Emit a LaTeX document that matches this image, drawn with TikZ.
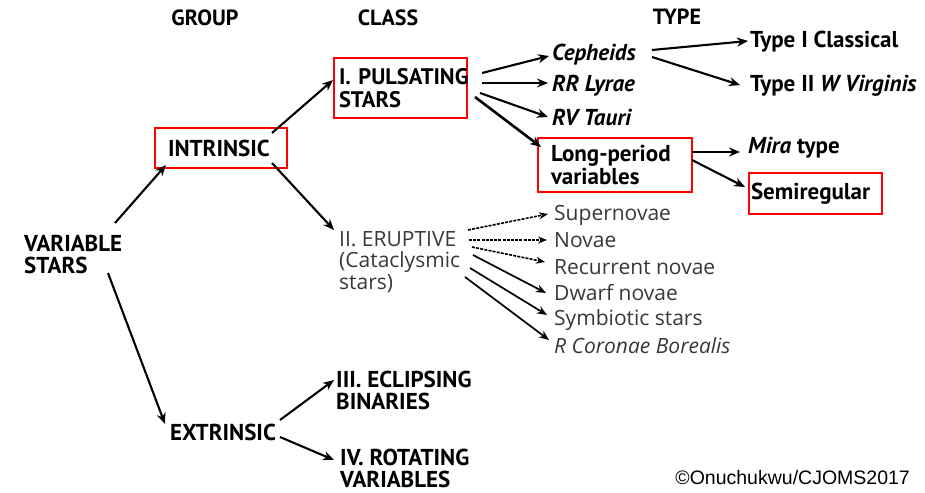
\documentclass[tikz,border=0pt]{standalone}
\usepackage{fontspec}
\setmainfont{PT Sans}
\newfontfamily\subfont{Open Sans}
\newfontfamily\credfont{Liberation Sans}
\usetikzlibrary{arrows.meta}
\tikzset{
  lbl/.style={anchor=west, inner sep=0pt, align=left, font=\bfseries\fontsize{23}{22}\selectfont},
  hdr/.style={inner sep=0pt, font=\bfseries\fontsize{22}{22}\selectfont},
  sub/.style={anchor=west, inner sep=0pt, align=left, text=black!78, font=\subfont\fontsize{21}{21.5}\selectfont},
  redbox/.style={draw=red, line width=2pt, inner ysep=0pt, align=left, font=\bfseries\fontsize{23}{23}\selectfont},
  arr/.style={-{Stealth[length=11pt,width=9pt]}, line width=2.1pt},
  darr/.style={-{Stealth[length=9pt,width=7pt]}, line width=1.6pt, dash pattern=on 3pt off 1.2pt},
  sarr/.style={-{Stealth[length=10pt,width=8pt]}, line width=1.7pt},
}
\begin{document}
\begin{tikzpicture}[x=1pt,y=-1pt]
\useasboundingbox (0,0) rectangle (925,492);
% headers
\node[hdr] (hgroup) at (205,18) {GROUP};
\node[hdr] (hclass) at (388,18) {CLASS};
\node[hdr] (htype) at (677,17) {TYPE};
% group level
\node[lbl] (vs) at (24,254) {VARIABLE\\STARS};
\node[redbox, inner xsep=13pt, text width=106pt, minimum height=40pt] (int) at (221,148) {INTRINSIC};
\node[lbl] (ext) at (170,432) {EXTRINSIC};
% class level
\node[redbox, inner xsep=5pt, text width=123pt, minimum height=60pt, font=\bfseries\fontsize{22.5}{23}\selectfont] (pul) at (400.5,88) {\mbox{I. PULSATING}\\STARS};
\node[sub] (eru) at (339,262) {II. ERUPTIVE\\(Cataclysmic\\stars)};
\node[lbl] (ecl) at (336,390) {III. ECLIPSING\\BINARIES};
\node[lbl] (rot) at (340,468) {IV. ROTATING\\VARIABLES};
% type level (pulsating)
\node[lbl] (ceph) at (552,55) {\itshape Cepheids};
\node[lbl] (rr) at (552,86) {\itshape RR Lyrae};
\node[lbl] (rv) at (552,117) {\itshape RV Tauri};
\node[redbox, inner xsep=13pt, text width=128pt, minimum height=54pt] (lpv) at (615,165) {\mbox{Long-period}\\variables};
\node[lbl] (t1) at (750,42) {Type I Classical};
\node[lbl] (t2) at (750,86) {Type II \textit{W Virginis}};
\node[lbl] (mira) at (748,148) {\textit{Mira} type};
\node[redbox, inner xsep=2pt, text width=129pt, minimum height=41pt] (semi) at (815.5,193.5) {Semiregular};
% type level (eruptive)
\node[sub] (sn) at (554,215) {Supernovae};
\node[sub] (nov) at (554,240) {Novae};
\node[sub] (rec) at (554,267) {Recurrent novae};
\node[sub] (dw) at (554,293) {Dwarf novae};
\node[sub] (sym) at (554,320) {Symbiotic stars};
\node[sub] (rcb) at (554,346) {\itshape R Coronae Borealis};
% credit
\node[anchor=east, inner sep=0pt, font=\credfont\fontsize{19.5}{22}\selectfont] (cred) at (910,478) {©Onuchukwu/CJOMS2017};
% connectors
\draw[arr] ([shift={(91,-31)}]vs.west) -- ([shift={(-55,17)}]int.center);
\draw[arr] ([shift={(84,19)}]vs.west) -- ([shift={(-5,-8)}]ext.west);
\draw[arr] ([shift={(51,-15)}]int.center) -- ([shift={(-67.5,-8)}]pul.center);
\draw[arr] ([shift={(51,15)}]int.center) -- ([shift={(-5,-32)}]eru.west);
\draw[arr] ([shift={(110,-12)}]ext.west) -- ([shift={(-2,-10)}]ecl.west);
\draw[arr] ([shift={(110,5)}]ext.west) -- ([shift={(-6,-8)}]rot.west);
\draw[arr] ([shift={(81.5,-15)}]pul.center) -- ([shift={(-3,1)}]ceph.west);
\draw[arr] ([shift={(81.5,-5)}]pul.center) -- ([shift={(-4,-3)}]rr.west);
\draw[arr] ([shift={(79.5,5)}]pul.center) -- ([shift={(-4,0)}]rv.west);
\draw[arr, line width=2.6pt] ([shift={(74.5,9)}]pul.center) -- ([shift={(-74,-18)}]lpv.center);
\draw[arr] ([shift={(100,-5)}]ceph.west) -- ([shift={(-2,-1)}]t1.west);
\draw[arr] ([shift={(100,2)}]ceph.west) -- ([shift={(-10,-1)}]t2.west);
\draw[arr] ([shift={(77,-13)}]lpv.center) -- ([shift={(-8,4)}]mira.west);
\draw[arr] ([shift={(77,-5)}]lpv.center) -- ([shift={(-70.5,-6.5)}]semi.center);
\draw[darr] ([shift={(129,-32)}]eru.west) -- ([shift={(-6,-1)}]sn.west);
\draw[darr] ([shift={(130,-22)}]eru.west) -- ([shift={(-7,0)}]nov.west);
\draw[darr] ([shift={(133,-15)}]eru.west) -- ([shift={(-9,-5)}]rec.west);
\draw[sarr] ([shift={(134,-7)}]eru.west) -- ([shift={(-8,0)}]dw.west);
\draw[sarr] ([shift={(131,6)}]eru.west) -- ([shift={(-7,-5)}]sym.west);
\draw[sarr] ([shift={(126,15)}]eru.west) -- ([shift={(-5,-6)}]rcb.west);
\end{tikzpicture}
\end{document}
